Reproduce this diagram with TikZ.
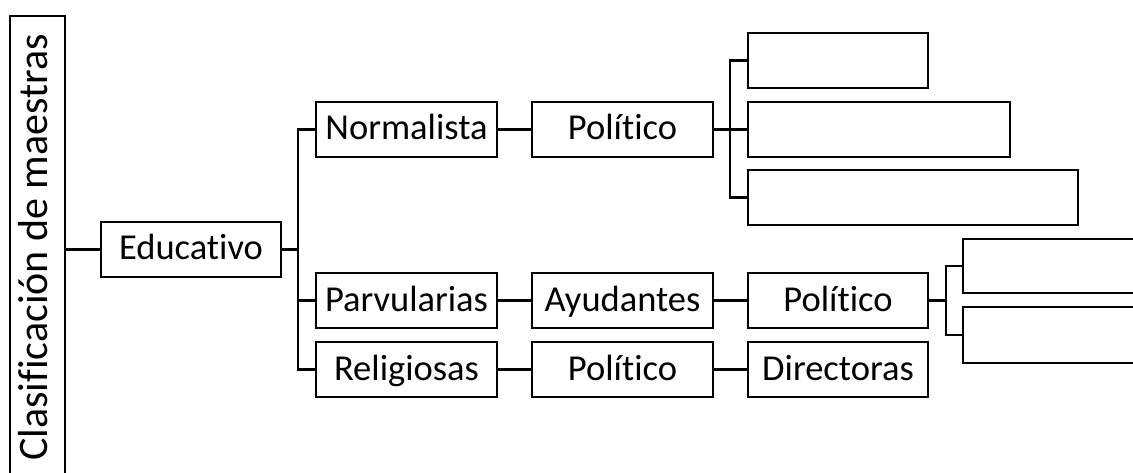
\documentclass[tikz,border=0pt]{standalone}
\usepackage{fontspec}
\setmainfont{Carlito}[Ligatures={NoCommon}]
\begin{document}
\begin{tikzpicture}[x=1pt,y=-1pt,
  line width=2.3pt,
  box/.style={draw, line width=2.3pt, rectangle, inner sep=0pt, outer sep=0pt,
    minimum height=55pt, text height=21pt, text depth=0pt,
    font=\fontsize{36.5}{40}\selectfont},
  w180/.style={minimum width=181pt}]
\useasboundingbox (0,0) rectangle (1133,473);
\clip (0,0) rectangle (1133,473);
\node[box, minimum width=55pt, minimum height=466pt] (root) at (37.5,249) {};
\node[rotate=90, anchor=base, font=\fontsize{42}{46}\selectfont, inner sep=0pt] (roottext) at (47,247.5) {Clasificación de maestras};
\node[box, minimum width=180pt] (edu) at (191,249.5) {Educativo};
\node[box, w180] (norm) at (406.5,129.5) {Normalista};
\node[box, w180] (pol1) at (622.5,129.5) {Político};
\node[box, w180] (parv) at (406.5,300.5) {Parvularias};
\node[box, w180] (ayud) at (622.5,300.5) {Ayudantes};
\node[box, minimum width=180pt] (pol2) at (838,300.5) {Político};
\node[box, w180] (reli) at (406.5,369.5) {Religiosas};
\node[box, w180] (pol3) at (622.5,369.5) {Político};
\node[box, minimum width=180pt] (dire) at (838,369.5) {Directoras};
\node[box, minimum width=180pt] (e1) at (838,60.5) {};
\node[box, minimum width=262pt] (e2) at (879,129.5) {};
\node[box, minimum width=330pt] (e3) at (913,197.5) {};
\node[box, minimum width=220pt, minimum height=54pt] (e4) at (1073,266) {};
\node[box, minimum width=220pt, minimum height=56pt] (e5) at (1073,335) {};
% connectors
\draw (root.east |- edu.west) -- (edu.west);
\draw (edu.east) -- ++(17,0);
\draw (norm.west) -- ++(-18,0) |- (reli.west);
\draw (parv.west) -- ++(-18,0);
\draw (norm.east) -- (pol1.west);
\draw (parv.east) -- (ayud.west);
\draw (ayud.east) -- (pol2.west);
\draw (reli.east) -- (pol3.west);
\draw (pol3.east) -- (dire.west);
\draw (pol1.east) -- (e2.west);
\draw (e1.west) -- ++(-18,0) |- (e3.west);
\draw (pol2.east) -- ++(18,0);
\draw (e4.west) -- ++(-17,0) |- (e5.west);
\end{tikzpicture}
\end{document}
